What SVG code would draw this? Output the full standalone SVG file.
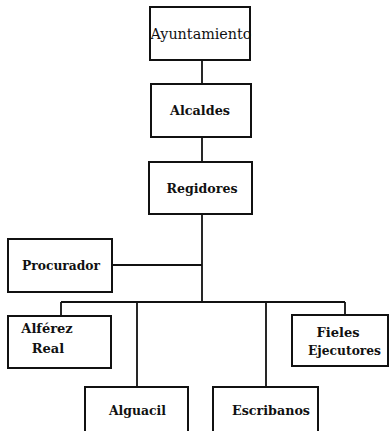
<svg xmlns="http://www.w3.org/2000/svg" width="389" height="431" viewBox="0 0 389 431">
<style>
.box{fill:#fff;stroke:#111;stroke-width:2}
.ln{fill:none;stroke:#111;stroke-width:1.8}
.t{font-family:"DejaVu Serif","Liberation Serif",serif;font-size:13px;font-weight:bold;fill:#111;text-anchor:middle}
.tr{font-family:"DejaVu Serif","Liberation Serif",serif;font-size:15px;fill:#111}
</style>
<rect width="389" height="431" fill="#fff"/>
<g id="connectors">
<path class="ln" d="M202 60V84M202 137V162M202 214V302M112 265H202M61 302H345M61 302V316M137 302V387M266 302V387M345 302V315"/>
</g>
<g id="ayuntamiento">
<rect class="box" x="150" y="7" width="100" height="53"/>
<text class="tr" x="150.5" y="38.5" textLength="101" lengthAdjust="spacingAndGlyphs">Ayuntamiento</text>
</g>
<g id="alcaldes">
<rect class="box" x="151" y="84" width="100" height="53"/>
<text class="t" x="200" y="115" textLength="60" lengthAdjust="spacingAndGlyphs">Alcaldes</text>
</g>
<g id="regidores">
<rect class="box" x="149" y="162" width="103" height="52"/>
<text class="t" x="202" y="193" textLength="71" lengthAdjust="spacingAndGlyphs">Regidores</text>
</g>
<g id="procurador">
<rect class="box" x="8" y="239" width="104" height="53"/>
<text class="t" x="61" y="270" textLength="78" lengthAdjust="spacingAndGlyphs">Procurador</text>
</g>
<g id="alferez">
<rect class="box" x="8" y="316" width="103" height="52"/>
<text class="t" x="47" y="333">Alférez</text>
<text class="t" x="48" y="353">Real</text>
</g>
<g id="alguacil">
<rect class="box" x="85" y="387" width="103" height="60"/>
<text class="t" x="137.5" y="415" textLength="57" lengthAdjust="spacingAndGlyphs">Alguacil</text>
</g>
<g id="escribanos">
<rect class="box" x="213" y="387" width="105" height="60"/>
<text class="t" x="271" y="415" textLength="78" lengthAdjust="spacingAndGlyphs">Escribanos</text>
</g>
<g id="fieles">
<rect class="box" x="292" y="315" width="96" height="51"/>
<text class="t" x="338" y="337">Fieles</text>
<text class="t" x="344.5" y="355" textLength="73" lengthAdjust="spacingAndGlyphs">Ejecutores</text>
</g>
</svg>
